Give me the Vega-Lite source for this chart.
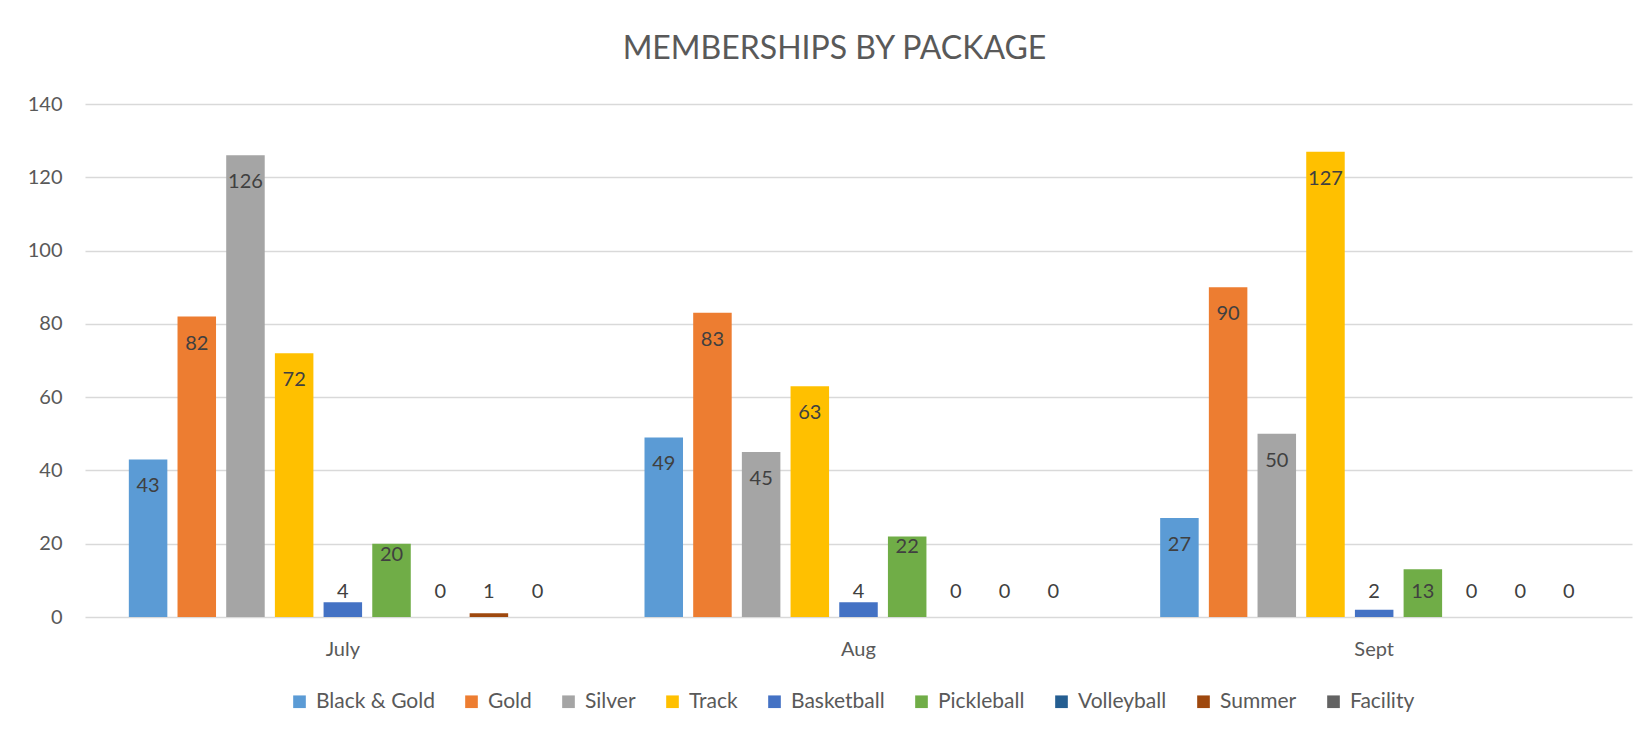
{
  "$schema": "https://vega.github.io/schema/vega-lite/v6.json",
  "width": 1547,
  "height": 513,
  "autosize": {"type": "none"},
  "padding": {"left": 85, "top": 104, "right": 17, "bottom": 119},
  "background": "white",
  "title": {"text": "MEMBERSHIPS BY PACKAGE", "font": "Lato", "fontSize": 32, "fontWeight": "normal", "color": "#595959", "offset": 28, "dx": -24, "anchor": "middle"},
  "data": {"values": [
    {"month": "July", "package": "Black & Gold", "value": 43},
    {"month": "July", "package": "Gold", "value": 82},
    {"month": "July", "package": "Silver", "value": 126},
    {"month": "July", "package": "Track", "value": 72},
    {"month": "July", "package": "Basketball", "value": 4},
    {"month": "July", "package": "Pickleball", "value": 20},
    {"month": "July", "package": "Volleyball", "value": 0},
    {"month": "July", "package": "Summer", "value": 1},
    {"month": "July", "package": "Facility", "value": 0},
    {"month": "Aug", "package": "Black & Gold", "value": 49},
    {"month": "Aug", "package": "Gold", "value": 83},
    {"month": "Aug", "package": "Silver", "value": 45},
    {"month": "Aug", "package": "Track", "value": 63},
    {"month": "Aug", "package": "Basketball", "value": 4},
    {"month": "Aug", "package": "Pickleball", "value": 22},
    {"month": "Aug", "package": "Volleyball", "value": 0},
    {"month": "Aug", "package": "Summer", "value": 0},
    {"month": "Aug", "package": "Facility", "value": 0},
    {"month": "Sept", "package": "Black & Gold", "value": 27},
    {"month": "Sept", "package": "Gold", "value": 90},
    {"month": "Sept", "package": "Silver", "value": 50},
    {"month": "Sept", "package": "Track", "value": 127},
    {"month": "Sept", "package": "Basketball", "value": 2},
    {"month": "Sept", "package": "Pickleball", "value": 13},
    {"month": "Sept", "package": "Volleyball", "value": 0},
    {"month": "Sept", "package": "Summer", "value": 0},
    {"month": "Sept", "package": "Facility", "value": 0}
  ]},
  "encoding": {
    "x": {"field": "month", "type": "nominal", "sort": ["July", "Aug", "Sept"],
      "scale": {"paddingInner": 0.17, "paddingOuter": 0.085},
      "axis": {"title": null, "labelAngle": 0, "domain": false, "ticks": false, "grid": false, "labelPadding": 22, "labelFont": "Lato", "labelFontSize": 20, "labelColor": "#595959"}},
    "xOffset": {"field": "package", "type": "nominal",
      "sort": ["Black & Gold", "Gold", "Silver", "Track", "Basketball", "Pickleball", "Volleyball", "Summer", "Facility"],
      "scale": {"paddingInner": 0.209, "paddingOuter": 0}}
  },
  "layer": [
    {
      "mark": {"type": "bar"},
      "encoding": {
        "y": {"field": "value", "type": "quantitative",
          "scale": {"domain": [0, 140], "nice": false},
          "axis": {"title": null, "values": [0, 20, 40, 60, 80, 100, 120, 140], "domain": false, "ticks": false, "labelPadding": 23, "labelFont": "Lato", "labelFontSize": 20, "labelColor": "#595959", "gridColor": "#d9d9d9", "gridWidth": 1.5}},
        "color": {"field": "package", "type": "nominal",
          "sort": ["Black & Gold", "Gold", "Silver", "Track", "Basketball", "Pickleball", "Volleyball", "Summer", "Facility"],
          "scale": {"domain": ["Black & Gold", "Gold", "Silver", "Track", "Basketball", "Pickleball", "Volleyball", "Summer", "Facility"],
            "range": ["#5B9BD5", "#ED7D31", "#A5A5A5", "#FFC000", "#4472C4", "#70AD47", "#255E91", "#9E480E", "#636363"]},
          "legend": {"title": null, "orient": "none", "legendX": 204, "legendY": 587, "direction": "horizontal", "symbolType": "square", "symbolSize": 160, "symbolStrokeWidth": 0, "labelFont": "Lato", "labelFontSize": 21, "labelColor": "#595959", "columnPadding": 26, "labelOffset": 6}}
      }
    },
    {
      "transform": [{"filter": "datum.value > 25"}],
      "mark": {"type": "text", "baseline": "middle", "dy": 27, "font": "Lato", "fontSize": 20, "color": "#404040"},
      "encoding": {"y": {"field": "value", "type": "quantitative"}, "text": {"field": "value", "type": "quantitative"}}
    },
    {
      "transform": [{"filter": "datum.value >= 15 && datum.value <= 25"}],
      "mark": {"type": "text", "baseline": "middle", "dy": 11, "font": "Lato", "fontSize": 20, "color": "#404040"},
      "encoding": {"y": {"field": "value", "type": "quantitative"}, "text": {"field": "value", "type": "quantitative"}}
    },
    {
      "transform": [{"filter": "datum.value < 15"}],
      "mark": {"type": "text", "baseline": "middle", "dy": -25, "font": "Lato", "fontSize": 20, "color": "#404040"},
      "encoding": {"y": {"datum": 0, "type": "quantitative"}, "text": {"field": "value", "type": "quantitative"}}
    }
  ],
  "config": {"view": {"stroke": null}}
}
